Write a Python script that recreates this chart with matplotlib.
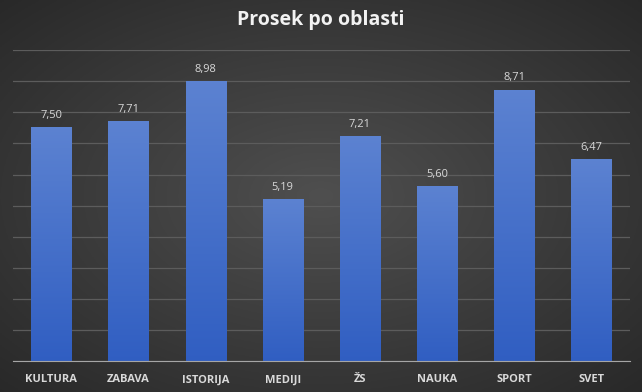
import matplotlib
matplotlib.use("Agg")
import matplotlib.pyplot as plt
import numpy as np

categories = ["KULTURA", "ZABAVA", "ISTORIJA", "MEDIJI", "ŽS", "NAUKA", "SPORT", "SVET"]
values = [7.50, 7.71, 8.98, 5.19, 7.21, 5.60, 8.71, 6.47]
labels = ["7,50", "7,71", "8,98", "5,19", "7,21", "5,60", "8,71", "6,47"]

fig = plt.figure(figsize=(6.42, 3.92), dpi=100)

# radial background gradient
bg = fig.add_axes([0, 0, 1, 1], zorder=-10)
yy, xx = np.mgrid[-1:1:200j, -1:1:320j]
r = np.sqrt(xx**2 + yy**2) / np.sqrt(2)
shade = 0.31 - 0.15 * r
bg.imshow(np.dstack([shade, shade, shade]), extent=[0, 1, 0, 1], aspect="auto")
bg.axis("off")

ax = fig.add_axes([0.02, 0.079, 0.961, 0.793])
ax.set_facecolor("none")
x = np.arange(len(categories))
w = 0.52
bars = ax.bar(x, values, width=w, color="none", zorder=3)

# vertical gradient inside each bar
grad = np.linspace(0, 1, 100).reshape(-1, 1)
top = np.array([0.36, 0.51, 0.82])
bot = np.array([0.19, 0.37, 0.76])
img = bot + (top - bot) * grad[:, :, None]
for b in bars:
    x0, y0 = b.get_x(), b.get_y()
    ax.imshow(img, extent=[x0, x0 + b.get_width(), y0, y0 + b.get_height()],
              origin="lower", aspect="auto", zorder=3)

for xi, v, lab in zip(x, values, labels):
    ax.text(xi, v + 0.22, lab, ha="center", va="bottom", fontsize=8,
            color="#d9d9d9", family="Open Sans")

ax.set_xlim(-0.5, len(categories) - 0.5)
ax.set_ylim(0, 10)
ax.set_yticks(np.arange(0, 11, 1))
ax.yaxis.grid(True, color="#5c5c5c", linewidth=0.9, zorder=0)
ax.tick_params(axis="y", left=False, labelleft=False)
ax.tick_params(axis="x", bottom=False, pad=6)
ax.set_xticks(x)
ax.set_xticklabels(categories, fontsize=8, fontweight="bold", color="#d9d9d9",
                   family="Open Sans")
for s in ["top", "left", "right"]:
    ax.spines[s].set_visible(False)
ax.spines["bottom"].set_color("#a6a6a6")
ax.spines["bottom"].set_zorder(4)

fig.text(0.5, 0.948, "Prosek po oblasti", ha="center", va="center", fontsize=14,
         fontweight="bold", color="#f2f2f2", family="Open Sans")

fig.savefig("out.png", dpi=100)
